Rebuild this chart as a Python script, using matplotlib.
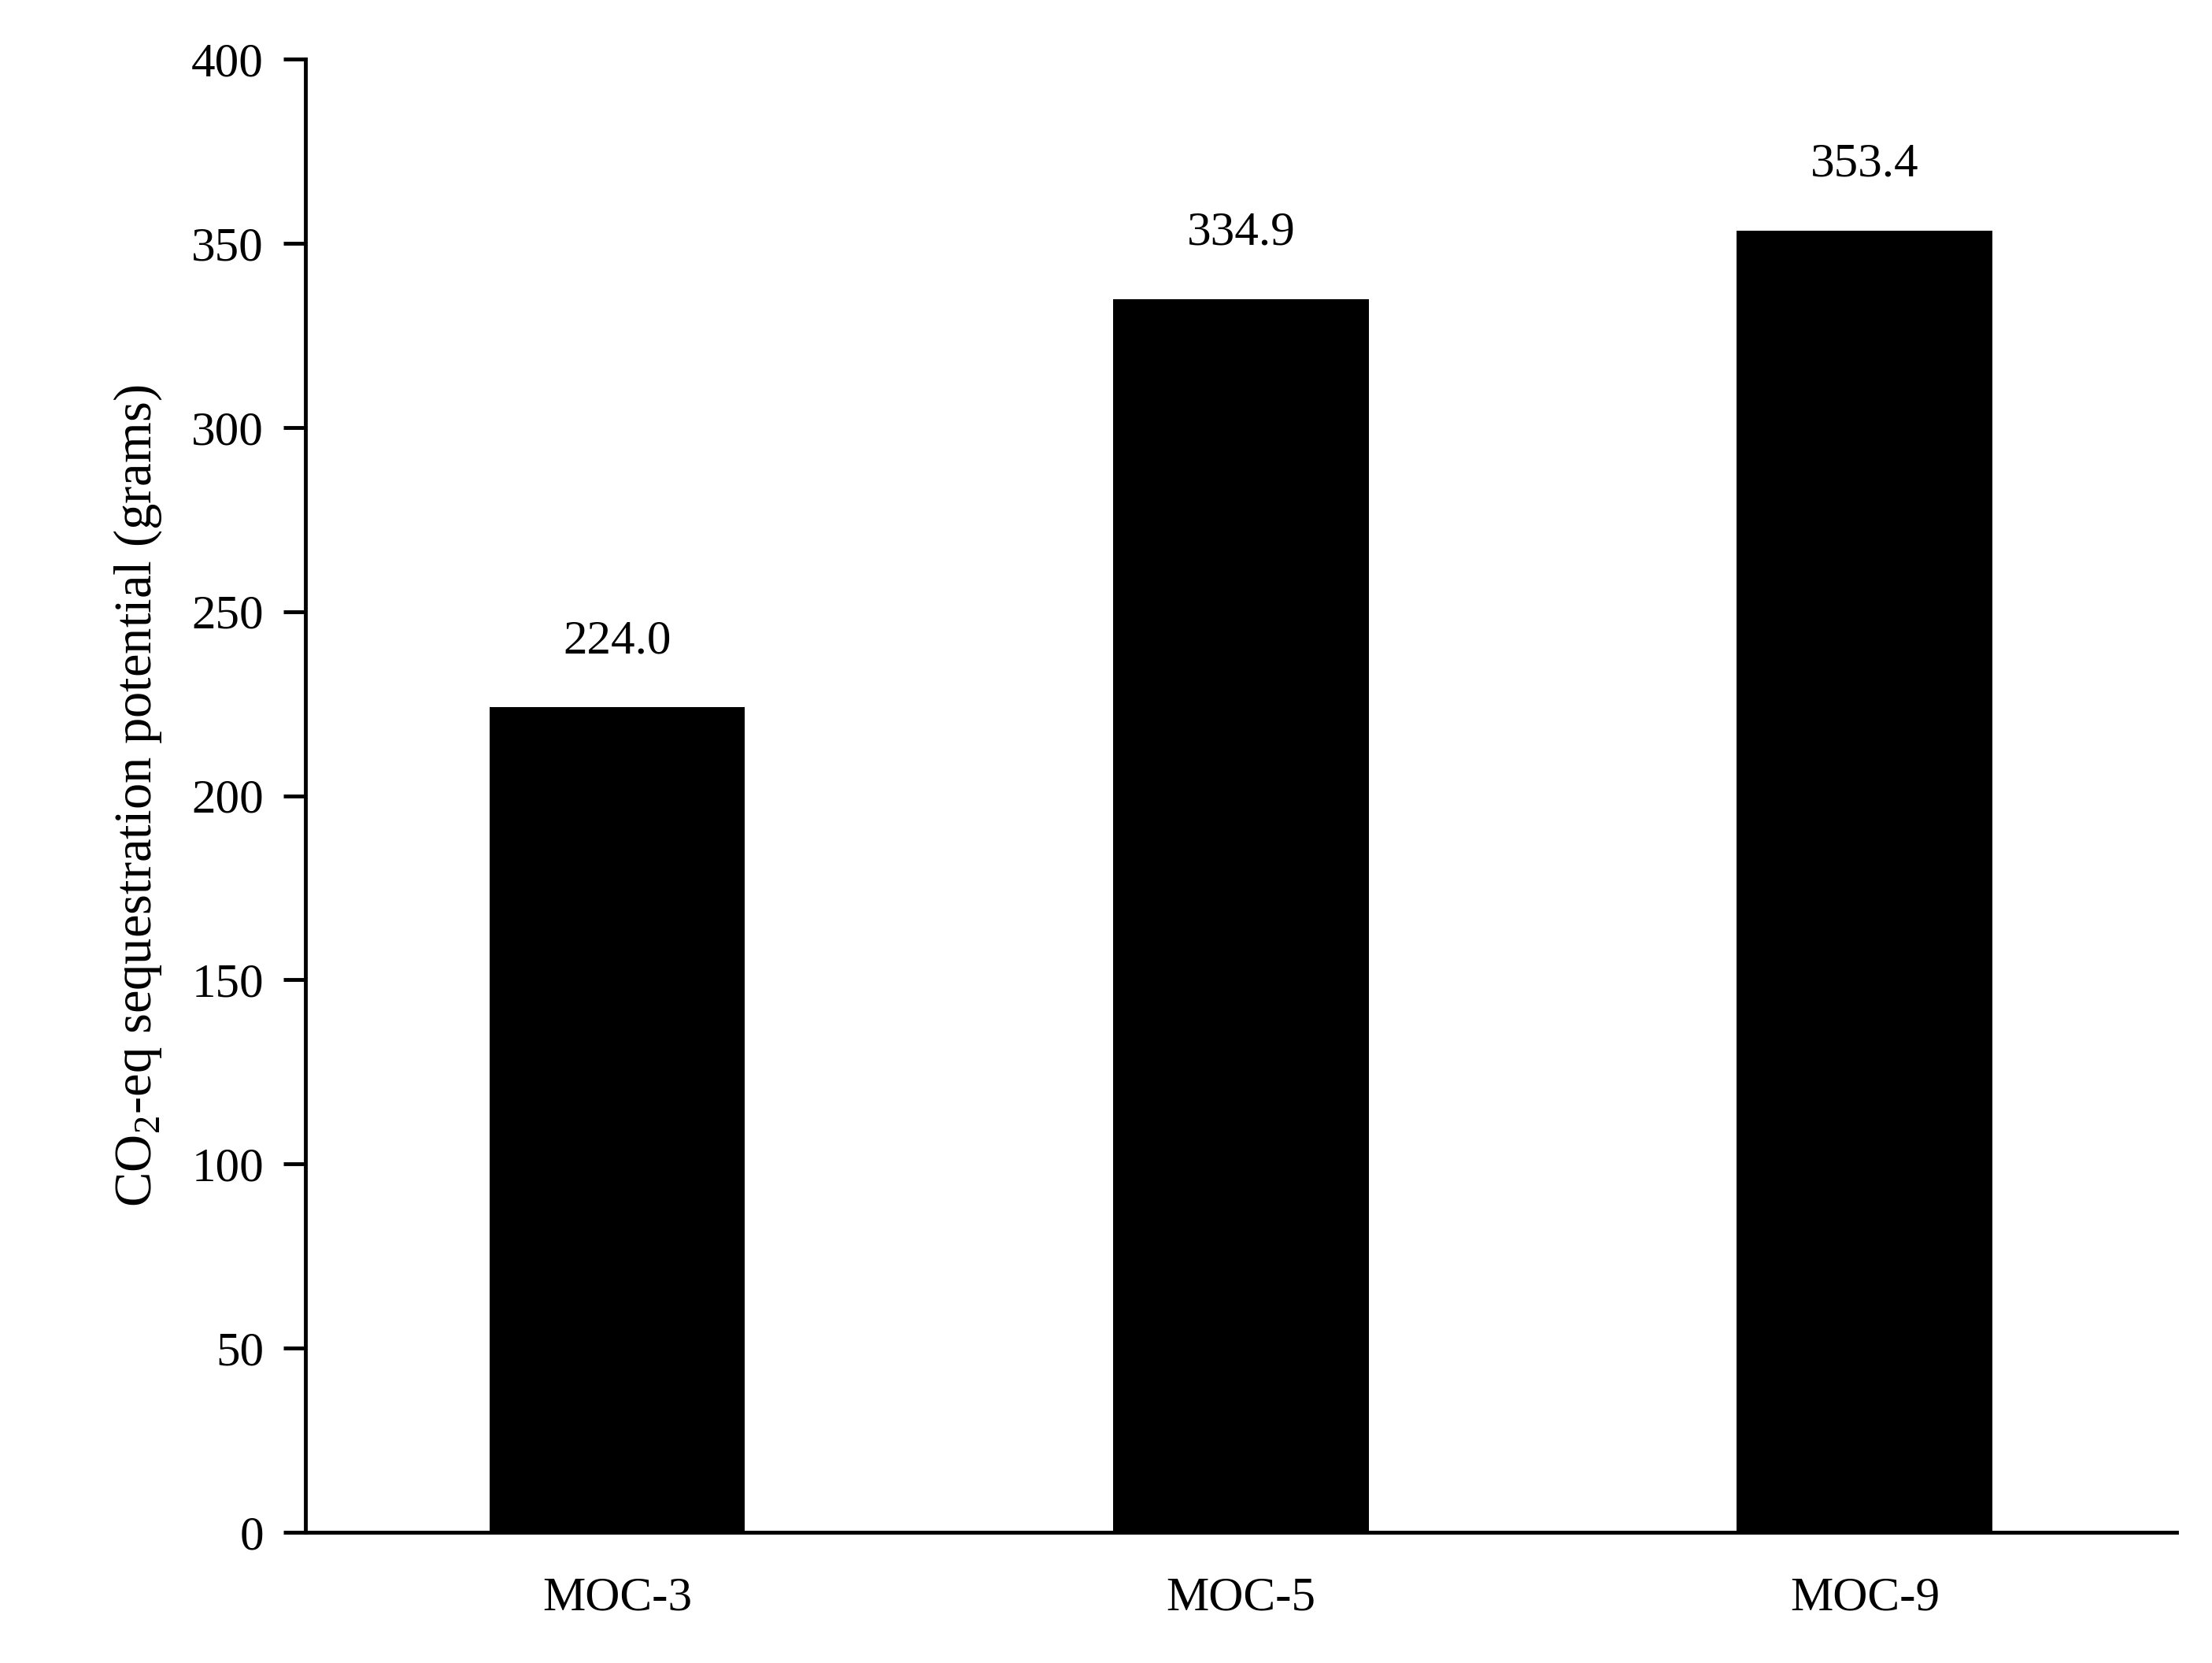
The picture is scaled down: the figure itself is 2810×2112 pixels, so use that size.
import matplotlib
matplotlib.use("Agg")
import matplotlib.pyplot as plt

categories = ["MOC-3", "MOC-5", "MOC-9"]
values = [224.0, 334.9, 353.4]
yticks = [0, 50, 100, 150, 200, 250, 300, 350, 400]

plt.rcParams['font.family'] = ['Liberation Serif', 'DejaVu Serif']
plt.rcParams['mathtext.fontset'] = 'custom'
plt.rcParams['mathtext.rm'] = 'Liberation Serif'

fig = plt.figure(figsize=(28.1, 21.12), dpi=100)
ax = fig.add_axes([0.138, 0.0785, 0.846, 0.886])
x = list(range(len(categories)))
ax.bar(x, values, width=0.41, color='black')
for xi, v in zip(x, values):
    ax.text(xi, v + 12, f"{v:.1f}", ha='center', va='bottom', fontsize=44)
ax.set_xlim(-0.5, 2.5)
ax.set_ylim(0, 400)
ax.set_yticks(yticks)
ax.set_xticks(x)
ax.set_xticklabels(categories)
ax.tick_params(axis='y', direction='out', length=20, width=3.5, labelsize=44, pad=18)
ax.tick_params(axis='x', length=0, labelsize=44, pad=40)
for s in ['top', 'right']:
    ax.spines[s].set_visible(False)
for s in ['left', 'bottom']:
    ax.spines[s].set_linewidth(3.5)
ax.set_ylabel(r'CO$_2$-eq sequestration potential (grams)', fontsize=48, labelpad=25)
fig.savefig("out.png", dpi=100)
